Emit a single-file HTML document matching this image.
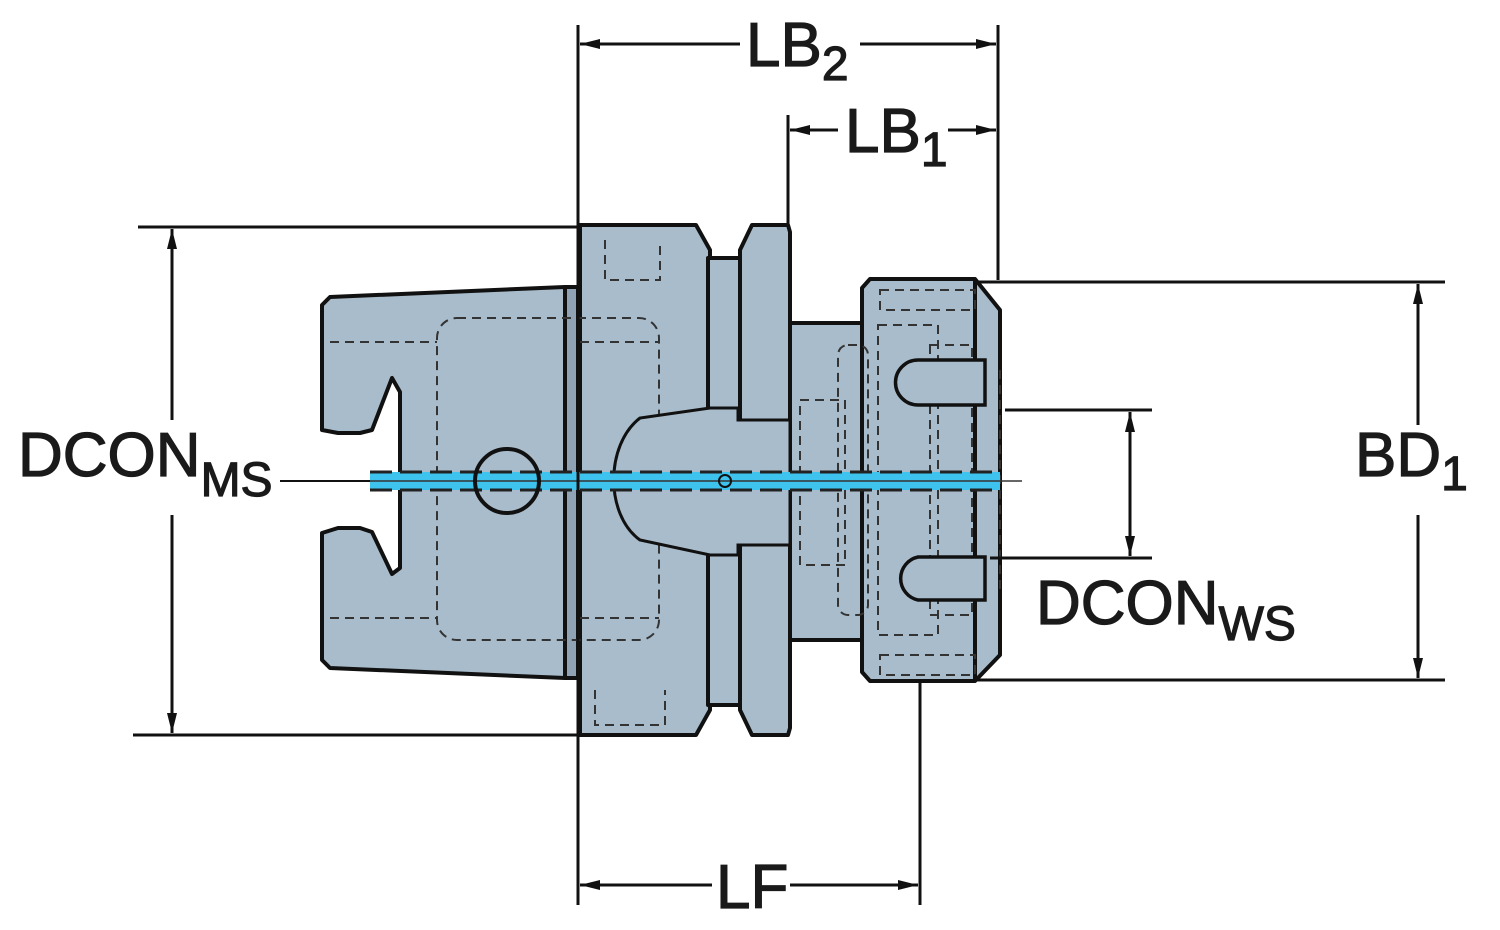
<!DOCTYPE html>
<html><head><meta charset="utf-8"><style>
html,body{margin:0;padding:0;background:#fff;width:1500px;height:930px;overflow:hidden}
svg{display:block}
text{font-family:"Liberation Sans",Arial,sans-serif;fill:#1a1a1a;stroke:#1a1a1a;stroke-width:1.2}
</style></head><body>
<svg width="1500" height="930" viewBox="0 0 1500 930" xmlns="http://www.w3.org/2000/svg">
<defs>
<marker id="a" viewBox="0 0 20 10" refX="20" refY="5" markerWidth="20" markerHeight="10" markerUnits="userSpaceOnUse" orient="auto-start-reverse"><path d="M0,0 L20,5 L0,10 Z" fill="#111"/></marker>
</defs>
<g fill="#a9bccb" stroke="#111" stroke-width="4" stroke-linejoin="round">
<path d="M330,297 L565,287 L565,678 L330,668 L322,660 L322,533 L338,528 L360,528 L372,532 L392,574 L400,568 L400,392 L392,378 L372,430 L360,433 L338,433 L322,430 L322,305 Z"/>
<rect x="565" y="287" width="13" height="391" fill="#8fa3b5"/>
<path d="M580,225 L696,225 L710,250 L710,710 L696,735 L580,735 Z"/>
<rect x="708" y="258" width="34" height="447"/>
<path d="M752,225 L788,225 L790,232 L790,728 L788,735 L752,735 L740,710 L740,250 Z"/>
<rect x="790" y="323" width="74" height="317"/>
<path d="M870,279 L975,279 L1000,310 L1000,655 L975,681 L870,681 L862,672 L862,288 Z"/>
<line x1="975" y1="279" x2="975" y2="681"/>
</g>
<g fill="none" stroke="#333" stroke-width="2" stroke-dasharray="9,6">
<rect x="437" y="318" width="222" height="322" rx="20"/>
<line x1="330" y1="342" x2="437" y2="342"/><line x1="330" y1="618" x2="437" y2="618"/>
<line x1="580" y1="342" x2="659" y2="342"/><line x1="580" y1="618" x2="659" y2="618"/>
<path d="M605,240 L605,280 L660,280 L660,240"/>
<path d="M595,690 L595,725 L665,725 L665,690"/>
<rect x="838" y="345" width="30" height="270" rx="10"/>
<rect x="880" y="290" width="95" height="20"/>
<rect x="880" y="655" width="95" height="20"/>
<rect x="878" y="325" width="60" height="310"/>
<rect x="930" y="345" width="42" height="270"/>
<rect x="800" y="400" width="45" height="165"/>
<line x1="1000" y1="370" x2="1000" y2="590"/>
</g>
<path d="M710,408 L738,408 L738,420 L790,420 L790,545 L738,545 L738,555 L710,555 L640,540 C605,515 605,445 640,418 Z" fill="#a9bccb" stroke="#111" stroke-width="3"/>
<g fill="#a9bccb" stroke="#111" stroke-width="3.5">
<path d="M918,360 L985,360 L985,405 L918,405 A22,22 0 0 1 918,360 Z"/>
<path d="M918,557 L985,557 L985,600 L918,600 A22,22 0 0 1 918,557 Z"/>
</g>
<rect x="370" y="472" width="630" height="18" fill="#3ec3ef"/>
<g stroke="#222" stroke-width="3" stroke-dasharray="22,8">
<line x1="370" y1="472" x2="1000" y2="472"/><line x1="370" y1="490" x2="1000" y2="490"/>
</g>
<line x1="370" y1="481" x2="1022" y2="481" stroke="#333" stroke-width="1.5"/>
<circle cx="507" cy="481" r="32" fill="none" stroke="#111" stroke-width="4"/>
<circle cx="725" cy="481" r="6" fill="none" stroke="#111" stroke-width="2"/>
<g stroke="#111" stroke-width="3" fill="none">
<line x1="578" y1="25" x2="578" y2="905"/>
<line x1="998" y1="25" x2="998" y2="280"/>
<line x1="788" y1="115" x2="788" y2="225"/>
<line x1="920" y1="680" x2="920" y2="905"/>
<line x1="138" y1="227" x2="580" y2="227"/>
<line x1="133" y1="735" x2="580" y2="735"/>
<line x1="975" y1="282" x2="1445" y2="282"/>
<line x1="975" y1="680" x2="1445" y2="680"/>
<line x1="1005" y1="410" x2="1152" y2="410"/>
<line x1="990" y1="558" x2="1152" y2="558"/>
<line x1="280" y1="481" x2="370" y2="481" stroke-width="2"/>
<line x1="580" y1="44" x2="740" y2="44" marker-start="url(#a)"/>
<line x1="860" y1="44" x2="996" y2="44" marker-end="url(#a)"/>
<line x1="790" y1="130" x2="838" y2="130" marker-start="url(#a)"/>
<line x1="948" y1="130" x2="996" y2="130" marker-end="url(#a)"/>
<line x1="580" y1="885" x2="712" y2="885" marker-start="url(#a)"/>
<line x1="790" y1="885" x2="918" y2="885" marker-end="url(#a)"/>
<line x1="172" y1="229" x2="172" y2="420" marker-start="url(#a)"/>
<line x1="172" y1="515" x2="172" y2="733" marker-end="url(#a)"/>
<line x1="1418" y1="284" x2="1418" y2="425" marker-start="url(#a)"/>
<line x1="1418" y1="515" x2="1418" y2="678" marker-end="url(#a)"/>
<line x1="1130" y1="412" x2="1130" y2="556" marker-start="url(#a)" marker-end="url(#a)"/>
</g>
<g font-size="62">
<text x="746" y="66">LB<tspan font-size="48" dy="14">2</tspan></text>
<text x="845" y="152">LB<tspan font-size="48" dy="14">1</tspan></text>
<text x="716" y="908">LF</text>
<text x="18" y="476">DCON<tspan font-size="48" dy="20">MS</tspan></text>
<text x="1355" y="476">BD<tspan font-size="48" dy="14">1</tspan></text>
<text x="1036" y="624">DCON<tspan font-size="48" dy="16">WS</tspan></text>
</g>
</svg>
</body></html>
